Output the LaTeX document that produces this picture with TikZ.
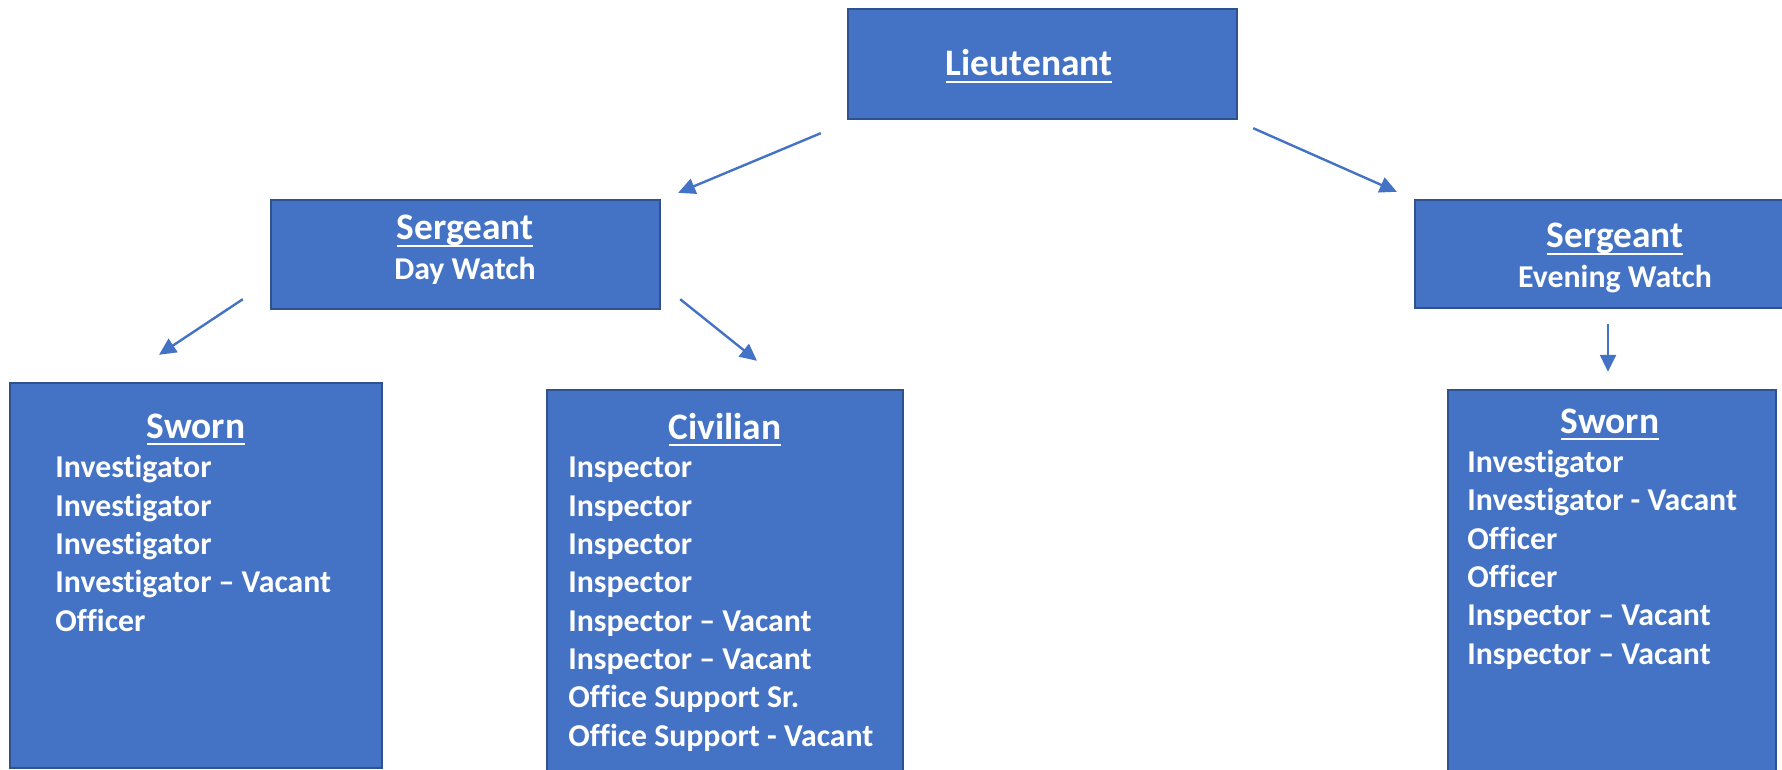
\documentclass[tikz,border=0pt]{standalone}
\usepackage{fontspec}
\setmainfont{Carlito}[Ligatures=NoCommon]
\usetikzlibrary{arrows.meta,fit}

\definecolor{boxblue}{HTML}{4472C4}
\definecolor{boxline}{HTML}{2F528F}
\definecolor{arrowblue}{HTML}{4472C4}

% underlined heading
\newcommand{\ulhead}[1]{\setbox0=\hbox{#1}\leavevmode\rlap{\vrule width\wd0 height -2.4pt depth 3.5pt}\box0}

\tikzset{
  box/.style={draw=boxline, fill=boxblue, line width=1.2pt, inner sep=0pt},
  title/.style={text=white, font=\bfseries\fontsize{18.7}{22}\selectfont, anchor=base, inner sep=0pt},
  watch/.style={text=white, font=\bfseries\fontsize{15.9}{19}\selectfont, anchor=base, inner sep=0pt},
  roster/.style={text=white, font=\bfseries\fontsize{15.9}{19.15}\selectfont, align=left, anchor=base west, inner sep=0pt},
  link/.style={draw=arrowblue, line width=1.2pt, -{Triangle[length=8.5pt,width=8pt]}}
}

\begin{document}
\begin{tikzpicture}[x=0.5pt, y=-0.5pt]
        \clip (0,0) rectangle (1782,770);

        % boxes
        \node[box, fit={(848,9) (1237,119)}] (lt) {};
        \node[box, fit={(271,200) (660,309)}] (sd) {};
        \node[box, fit={(1415,200) (1820,308)}] (se) {};
        \node[box, fit={(10,383) (382,768)}] (swd) {};
        \node[box, fit={(547,390) (903,800)}] (cv) {};
        \node[box, fit={(1448,390) (1776,800)}] (swe) {};

        % headings
        \node[title] (lt-t) at (1029,76) {\ulhead{Lieutenant}};
        \node[title] (sd-t) at (465,240) {\ulhead{Sergeant}};
        \node[watch] (sd-w) at (465,279) {Day Watch};
        \node[title] (se-t) at (1615,248) {\ulhead{Sergeant}};
        \node[watch] (se-w) at (1615,287) {Evening Watch};
        \node[title] (swd-t) at (196,438) {\ulhead{Sworn}};
        \node[title] (cv-t) at (725,439) {\ulhead{Civilian}};
        \node[title] (swe-t) at (1610,433) {\ulhead{Sworn}};

        % rosters (placed by the baseline of their last line)
        \node[roster] (swd-r) at (55,631) {Investigator\\Investigator\\Investigator\\Investigator -- Vacant\\Officer};
        \node[roster] (cv-r) at (568,746) {Inspector\\Inspector\\Inspector\\Inspector\\Inspector -- Vacant\\Inspector -- Vacant\\Office Support Sr.\\Office Support - Vacant};
        \node[roster] (swe-r) at (1467,664) {Investigator\\Investigator - Vacant\\Officer\\Officer\\Inspector -- Vacant\\Inspector -- Vacant};

        % arrow ends
        \coordinate (a1) at ([shift={(-26,13)}]lt.south west);
        \coordinate (b1) at ([shift={(17,-6)}]sd.north east);
        \coordinate (a2) at ([shift={(15,8)}]lt.south east);
        \coordinate (b2) at ([shift={(-17,-7)}]se.north west);
        \coordinate (a3) at ([shift={(-27,-11)}]sd.south west);
        \coordinate (b3) at ([shift={(-37,-27)}]swd.north);
        \coordinate (a4) at ([shift={(19,-11)}]sd.south east);
        \coordinate (b4) at ([shift={(32,-28)}]cv.north);
        \coordinate (a5) at ([shift={(-4,-65)}]swe.north);
        \coordinate (b5) at ([shift={(-4,-17)}]swe.north);

        \draw[link] (a1) -- (b1);
        \draw[link] (a2) -- (b2);
        \draw[link] (a3) -- (b3);
        \draw[link] (a4) -- (b4);
        \draw[link] (a5) -- (b5);
    \end{tikzpicture}
\end{document}
